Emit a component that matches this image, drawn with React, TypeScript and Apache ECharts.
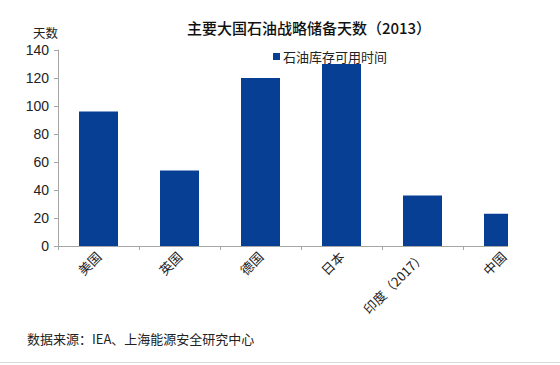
import React, { useEffect, useRef } from "react";
import * as echarts from "echarts";

const categories = ["美国", "英国", "德国", "日本", "印度（2017）", "中国"];
const values = [96, 54, 120, 130, 36, 23];
const seriesName = "石油库存可用时间";
const titleText = "主要大国石油战略储备天数（2013）";
const yAxisName = "天数";
const sourceText = "数据来源：IEA、上海能源安全研究中心";

const CJK = '"Noto Sans CJK SC", "Liberation Sans", sans-serif';
const LATIN = '"Liberation Sans", "Noto Sans CJK SC", sans-serif';

export default function App() {
  const ref = useRef<HTMLDivElement>(null);
  useEffect(() => {
    if (!ref.current) return;
    document.body.style.margin = "0";
    const chart = echarts.init(ref.current, null, { renderer: "svg" });
    chart.setOption({
      animation: false,
      backgroundColor: "#ffffff",
      title: {
        text: titleText,
        left: 304,
        textAlign: "center",
        top: 15,
        textStyle: { fontFamily: CJK, fontSize: 15, fontWeight: 500, color: "#111" },
      },
      legend: {
        data: [seriesName],
        left: 268,
        top: 45,
        itemWidth: 7,
        itemHeight: 7,
        itemGap: 4,
        icon: "rect",
        textStyle: { fontFamily: CJK, fontSize: 13, color: "#222", padding: [0, 0, 0, -2] },
      },
      grid: { left: 58, right: 16, top: 50, bottom: 119, containLabel: false },
      xAxis: {
        type: "category",
        data: categories,
        axisLine: { lineStyle: { color: "#a6a6a6", width: 1 } },
        axisTick: { show: true, length: 4, alignWithLabel: false, lineStyle: { color: "#a6a6a6" } },
        axisLabel: {
          rotate: 45,
          margin: 8,
          interval: 0,
          fontFamily: CJK,
          fontSize: 13,
          color: "#222",
        },
      },
      yAxis: {
        type: "value",
        min: 0,
        max: 140,
        interval: 20,
        axisLine: { show: true, lineStyle: { color: "#a6a6a6", width: 1 } },
        axisTick: { show: true, length: 4, lineStyle: { color: "#a6a6a6" } },
        splitLine: { show: false },
        axisLabel: { fontFamily: LATIN, fontSize: 14, color: "#222", margin: 9 },
      },
      series: [
        {
          name: seriesName,
          type: "bar",
          data: values,
          barWidth: 39,
          itemStyle: { color: "#073f95" },
          z: 3,
        },
      ],
      graphic: [
        {
          type: "rect",
          left: 508,
          top: 40,
          shape: { width: 52, height: 208 },
          style: { fill: "#ffffff" },
          z: 100,
        },
        {
          type: "rect",
          left: 525,
          top: 240,
          shape: { width: 35, height: 14 },
          style: { fill: "#ffffff" },
          z: 100,
        },
        {
          type: "text",
          left: 33,
          top: 26,
          style: { text: yAxisName, fontFamily: CJK, fontSize: 12.5, fill: "#222" },
        },
        {
          type: "text",
          left: 27,
          top: 332,
          style: { text: sourceText, fontFamily: CJK, fontSize: 13, fill: "#222" },
        },
        {
          type: "rect",
          left: 0,
          top: 362,
          shape: { width: 560, height: 1 },
          style: { fill: "#d9d9d9" },
        },
      ],
    });
    return () => chart.dispose();
  }, []);
  return <div ref={ref} style={{ width: 560, height: 365 }} />;
}
